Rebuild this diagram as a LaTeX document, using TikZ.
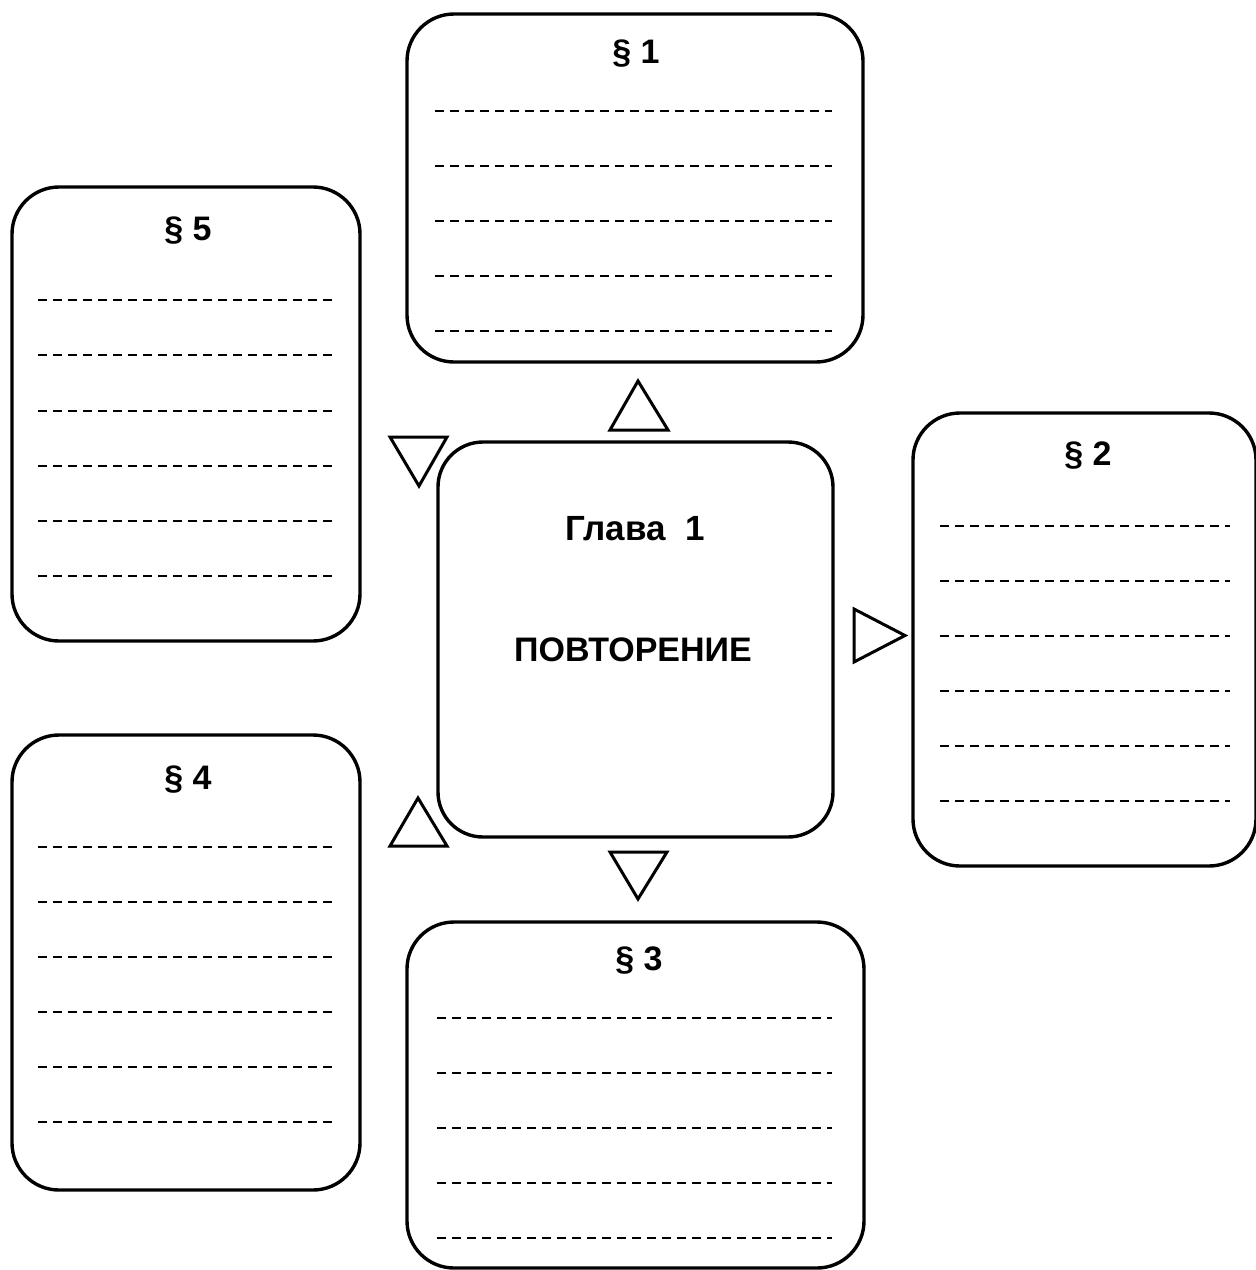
\documentclass[tikz,border=0pt]{standalone}
\usepackage{fontspec}
\setmainfont{Liberation Sans}
\begin{document}
\begin{tikzpicture}[x=1pt,y=-1pt,
  box/.style={draw=black, line width=3.4pt, rounded corners=47pt, inner sep=0pt},
  ruled/.style={line width=2.2pt, dash pattern=on 9pt off 6pt},
  tri/.style={draw=black, line width=3pt, line join=miter},
  head/.style={font=\fontsize{34}{38}\selectfont\bfseries, anchor=base, inner sep=0pt}]
\useasboundingbox (0,0) rectangle (1256,1270);
% boxes
\node[box, minimum width=456pt, minimum height=348pt] (p1) at (635,188) {};
\node[box, minimum width=348pt, minimum height=454pt] (p5) at (186,414) {};
\node[box, minimum width=343pt, minimum height=453pt] (p2) at (1084.5,639.5) {};
\node[box, minimum width=348pt, minimum height=455pt] (p4) at (186,962.5) {};
\node[box, minimum width=457pt, minimum height=346pt] (p3) at (635.5,1095) {};
\node[box, minimum width=395pt, minimum height=395pt, rounded corners=45pt] (c) at (635.5,639.5) {};
% headings
\node[head] (t1) at (636,63) {§ 1};
\node[head] (t5) at (188,240) {§ 5};
\node[head] (t2) at (1088,465) {§ 2};
\node[head] (t4) at (188,789) {§ 4};
\node[head] (t3) at (639,970) {§ 3};
\node[font=\fontsize{35}{40}\selectfont\bfseries, anchor=base, inner sep=0pt] (gl) at (635,540) {Глава\ \ 1};
\node[font=\fontsize{34}{38}\selectfont\bfseries, anchor=base, inner sep=0pt] (pv) at (633,661) {ПОВТОРЕНИЕ};
% ruled lines
\foreach \y in {111,166,221,276,331} \draw[ruled] (435,\y) -- (832,\y);
\foreach \y in {300,355,411,466,521,576} \draw[ruled] (38,\y) -- (333,\y);
\foreach \y in {526,581,636,691,746,801} \draw[ruled] (940,\y) -- (1230,\y);
\foreach \y in {847,902,957,1012,1067,1122} \draw[ruled] (38,\y) -- (333,\y);
\foreach \y in {1018,1073,1128,1183,1238} \draw[ruled] (437,\y) -- (832,\y);
% triangles
\draw[tri] (638,381) -- (668,430) -- (610,430) -- cycle;
\draw[tri] (390,437) -- (447,437) -- (419,486) -- cycle;
\draw[tri] (854,609) -- (905,635.5) -- (854,662) -- cycle;
\draw[tri] (418,798) -- (447,846) -- (390,846) -- cycle;
\draw[tri] (610,852) -- (667,852) -- (638,899) -- cycle;
\end{tikzpicture}
\end{document}
